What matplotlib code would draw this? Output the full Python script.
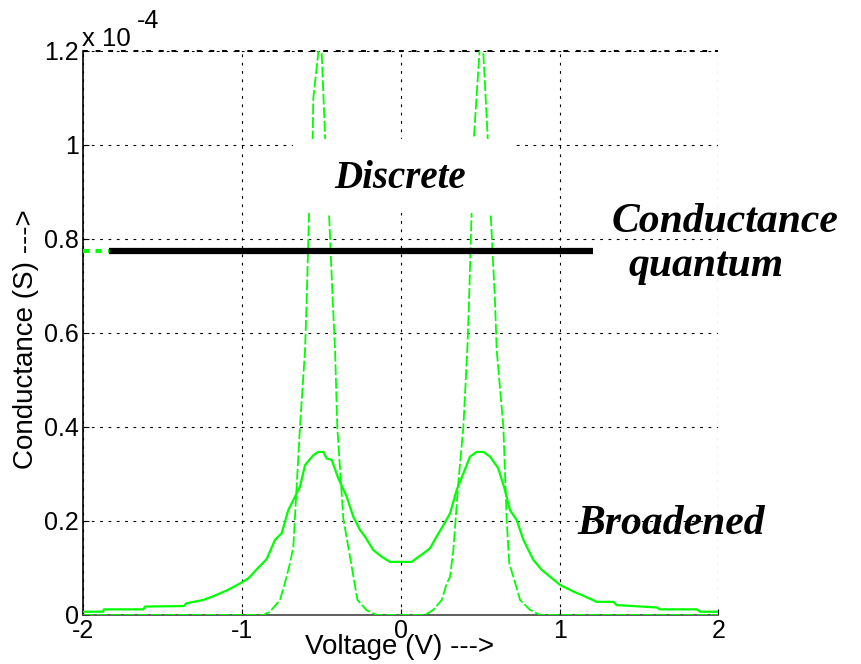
import matplotlib
matplotlib.use("Agg")
import matplotlib.pyplot as plt
from matplotlib.patches import Rectangle

# Broadened conductance (solid), units of 1e-4 S
v_broad = [-2.0, -1.874, -1.87, -1.622, -1.61, -1.367, -1.35, -1.244, -1.181, -1.097,
           -1.013, -0.96, -0.908, -0.845, -0.792, -0.75, -0.709, -0.666, -0.635, -0.603,
           -0.551, -0.52, -0.488, -0.467, -0.435, -0.394, -0.341, -0.299, -0.257, -0.226,
           -0.173, -0.12, -0.068, 0.069, 0.1, 0.142, 0.184, 0.226, 0.268, 0.31,
           0.352, 0.394, 0.436, 0.478, 0.52, 0.562, 0.614, 0.656, 0.688, 0.73,
           0.772, 0.835, 0.888, 1.003, 1.087, 1.15, 1.234, 1.339, 1.36, 1.465,
           1.612, 1.633, 1.864, 1.885, 2.0]
g_broad = [0.007, 0.007, 0.012, 0.012, 0.018, 0.019, 0.025, 0.032, 0.040, 0.052,
           0.067, 0.078, 0.097, 0.119, 0.160, 0.174, 0.223, 0.252, 0.273, 0.319,
           0.340, 0.347, 0.347, 0.333, 0.330, 0.291, 0.252, 0.209, 0.181, 0.167,
           0.138, 0.124, 0.113, 0.113, 0.121, 0.131, 0.142, 0.167, 0.191, 0.216,
           0.266, 0.301, 0.337, 0.347, 0.347, 0.337, 0.312, 0.266, 0.223, 0.202,
           0.160, 0.117, 0.096, 0.064, 0.050, 0.041, 0.028, 0.028, 0.021, 0.019,
           0.016, 0.012, 0.012, 0.007, 0.007]

# Discrete conductance (dashed), units of 1e-4 S
v_disc = [-2.0, -0.866, -0.824, -0.761, -0.73, -0.698, -0.677, -0.635, -0.603, -0.593,
          -0.578, -0.555, -0.551, -0.52, -0.509, -0.498, -0.477, -0.452, -0.429, -0.414,
          -0.40, -0.362, -0.32, -0.273, -0.215, -0.152, 0.152, 0.205, 0.258, 0.289,
          0.31, 0.331, 0.362, 0.394, 0.419, 0.43, 0.446, 0.461, 0.495, 0.507,
          0.52, 0.547, 0.566, 0.593, 0.604, 0.646, 0.667, 0.683, 0.74, 0.751,
          0.814, 0.877, 2.0]
g_disc = [0.0, 0.0, 0.007, 0.032, 0.068, 0.110, 0.145, 0.400, 0.564, 0.670,
          0.855, 1.018, 1.100, 1.195, 1.500, 1.195, 1.018, 0.855, 0.670, 0.564,
          0.400, 0.205, 0.124, 0.032, 0.010, 0.0, 0.0, 0.011, 0.032, 0.067,
          0.081, 0.138, 0.280, 0.400, 0.564, 0.670, 0.855, 1.018, 1.195, 1.500,
          1.195, 1.018, 0.855, 0.670, 0.564, 0.400, 0.202, 0.110, 0.046, 0.032,
          0.011, 0.0, 0.0]

# Conductance quantum line
g_quantum = 0.775
v_quantum_green = [-2.0, -1.84]
v_quantum_black = [-1.84, 1.21]

x_ticks = [-2, -1, 0, 1, 2]
y_ticks = [0, 0.2, 0.4, 0.6, 0.8, 1.0, 1.2]
y_ticklabels = ["0", "0.2", "0.4", "0.6", "0.8", "1", "1.2"]

green = "#00ff00"

fig = plt.figure(figsize=(8.61, 6.64), dpi=100)
ax = fig.add_axes([0.0967, 0.0738, 0.7376, 0.8494])

ax.plot(v_broad, g_broad, color=green, lw=1.6, zorder=2.6)
ax.plot(v_disc, g_disc, color=green, lw=1.3, ls=(0, (6, 1.5)), zorder=2.6)
ax.plot(v_quantum_green, [g_quantum, g_quantum], color=green, lw=3, ls=(0, (1.5, 1.5)), zorder=2.6)
ax.plot(v_quantum_black, [g_quantum, g_quantum], color="black", lw=4.5, solid_capstyle="butt", zorder=4)

ax.set_xlim(-2, 2)
ax.set_ylim(0, 1.2)
ax.set_xticks(x_ticks)
ax.set_xticklabels([str(t) for t in x_ticks])
ax.set_yticks(y_ticks)
ax.set_yticklabels(y_ticklabels)

ax.grid(True, color="black", ls=(0, (2.5, 5)), lw=0.8)
for s in ["top", "right"]:
    ax.spines[s].set_visible(False)
ax.spines["left"].set_linewidth(1.2)
ax.spines["bottom"].set_linewidth(1.2)
ax.spines["bottom"].set_color("#444444")
ax.tick_params(direction="in", length=4, labelsize=18, pad=3)
for lab in ax.get_xticklabels() + ax.get_yticklabels():
    lab.set_family("Liberation Sans")

# top border dotted (grid-like)
ax.plot([-2, 2], [1.2, 1.2], color="black", ls=(0, (2.5, 4)), lw=1.4, clip_on=False, zorder=1)

# white mask behind "Discrete"
ax.add_patch(Rectangle((0.330, 0.713), 0.350, 0.131, transform=ax.transAxes,
                       facecolor="white", edgecolor="none", zorder=3))

serif = dict(family="Liberation Serif", weight="bold", style="italic", color="black")
fig.text(400 / 861, 1 - 178 / 664, "Discrete", ha="center", va="center", fontsize=28, zorder=5, **serif)
fig.text(725 / 861, 1 - 222 / 664, "Conductance", ha="center", va="center", fontsize=30, **serif)
fig.text(706 / 861, 1 - 266 / 664, "quantum", ha="center", va="center", fontsize=30, **serif)
fig.text(671 / 861, 1 - 524 / 664, "Broadened", ha="center", va="center", fontsize=30, **serif)

# offset text (exponent)
fig.text(82 / 861, 1 - 46 / 664, "x 10", ha="left", va="baseline",
         fontsize=18.5, family="Liberation Sans")
fig.text(137 / 861, 1 - 28 / 664, "-4", ha="left", va="baseline",
         fontsize=18, family="Liberation Sans")

fig.text(26 / 861, 1 - 339 / 664, "Conductance (S) --->", rotation=90, ha="center", va="center",
         fontsize=20, family="Liberation Sans")
fig.text(400 / 861, 1 - 647 / 664, "Voltage (V) --->", ha="center", va="center",
         fontsize=20, family="Liberation Sans")

fig.savefig("out.png", dpi=100, facecolor="white")
